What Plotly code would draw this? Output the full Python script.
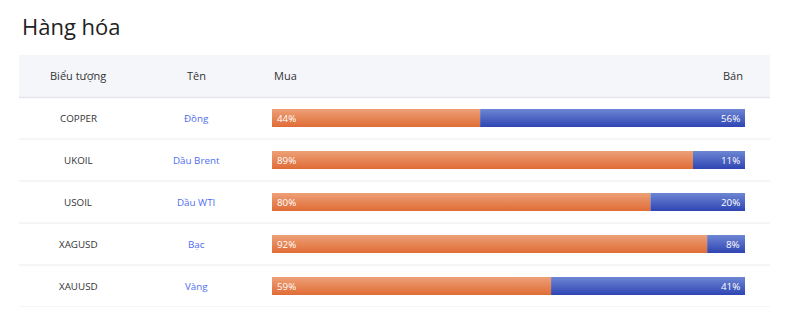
import plotly.graph_objects as go

title = "Hàng hóa"
headers = ["Biểu tượng", "Tên", "Mua", "Bán"]
symbols = ["COPPER", "UKOIL", "USOIL", "XAGUSD", "XAUUSD"]
names = ["Đồng", "Dầu Brent", "Dầu WTI", "Bạc", "Vàng"]
buy = [44, 89, 80, 92, 59]
sell = [56, 11, 20, 8, 41]

W, H = 800, 324
FONT = "Open Sans"
ORANGE_SCALE = [[0, "#e06c36"], [1, "#eda077"]]
BLUE_SCALE = [[0, "#2e45b3"], [1, "#6e86d3"]]

fig = go.Figure()
half = 0.215
for i, (b, s) in enumerate(zip(buy, sell)):
    fig.add_trace(go.Scatter(
        x=[0, b, b, 0, 0], y=[i - half, i - half, i + half, i + half, i - half],
        mode="lines", line=dict(width=0), fill="toself",
        fillgradient=dict(type="vertical", colorscale=ORANGE_SCALE),
        hoverinfo="skip", showlegend=False))
    fig.add_trace(go.Scatter(
        x=[b, b + s, b + s, b, b], y=[i - half, i - half, i + half, i + half, i - half],
        mode="lines", line=dict(width=0), fill="toself",
        fillgradient=dict(type="vertical", colorscale=BLUE_SCALE),
        hoverinfo="skip", showlegend=False))

x0p, x1p = 272 / W, 745 / W
top_rows = 97 / H
bot_rows = 307 / H
fig.update_layout(
    width=W, height=H, margin=dict(l=0, r=0, t=0, b=0),
    paper_bgcolor="white", plot_bgcolor="rgba(0,0,0,0)",
    xaxis=dict(domain=[x0p, x1p], range=[0, 100], visible=False, fixedrange=True),
    yaxis=dict(domain=[1 - bot_rows, 1 - top_rows], range=[len(symbols) - 0.5, -0.5],
               visible=False, fixedrange=True),
    font=dict(family=FONT),
)

L, R = 19 / W, 770 / W
shapes = []
shapes.append(dict(type="rect", xref="paper", yref="paper", x0=L, x1=R,
                   y0=1 - 97 / H, y1=1 - 55 / H, fillcolor="#f5f6fa", line=dict(width=0), layer="below"))
shapes.append(dict(type="line", xref="paper", yref="paper", x0=L, x1=R,
                   y0=1 - 97.5 / H, y1=1 - 97.5 / H, line=dict(color="#e4e6ec", width=1.5)))
for i in range(len(symbols)):
    shapes.append(dict(type="line", xref="paper", yref="y", x0=L, x1=R,
                       y0=i + 0.5, y1=i + 0.5, line=dict(color="#ececec", width=1)))
fig.update_layout(shapes=shapes)

ann = []
ann.append(dict(text=title, xref="paper", yref="paper", x=20 / W, y=1 - 26 / H,
                xanchor="left", yanchor="middle", showarrow=False,
                font=dict(size=22, color="#222222", family=FONT)))
hy = 1 - 76 / H
hfont = dict(size=11, color="#333333")
ann.append(dict(text=headers[0], xref="paper", yref="paper", x=78 / W, y=hy, xanchor="center",
                yanchor="middle", showarrow=False, font=hfont))
ann.append(dict(text=headers[1], xref="paper", yref="paper", x=196 / W, y=hy, xanchor="center",
                yanchor="middle", showarrow=False, font=hfont))
ann.append(dict(text=headers[2], xref="paper", yref="paper", x=x0p, y=hy, xanchor="left",
                yanchor="middle", showarrow=False, font=hfont))
ann.append(dict(text=headers[3], xref="paper", yref="paper", x=x1p, y=hy, xanchor="right",
                yanchor="middle", showarrow=False, font=hfont))
for i, (sym, nm, b, s) in enumerate(zip(symbols, names, buy, sell)):
    ann.append(dict(text=sym, xref="paper", yref="y", x=78 / W, y=i, xanchor="center",
                    yanchor="middle", showarrow=False, font=dict(size=9.8, color="#333333")))
    ann.append(dict(text=nm, xref="paper", yref="y", x=196 / W, y=i, xanchor="center",
                    yanchor="middle", showarrow=False, font=dict(size=9.8, color="#4e6ef0")))
    ann.append(dict(text=f"{b}%", xref="x", yref="y", x=0, y=i, xanchor="left", xshift=3,
                    yanchor="middle", showarrow=False, font=dict(size=9.8, color="white")))
    ann.append(dict(text=f"{s}%", xref="x", yref="y", x=100, y=i, xanchor="right", xshift=-3,
                    yanchor="middle", showarrow=False, font=dict(size=9.8, color="white")))
fig.update_layout(annotations=ann)

fig.write_html("out.html")
